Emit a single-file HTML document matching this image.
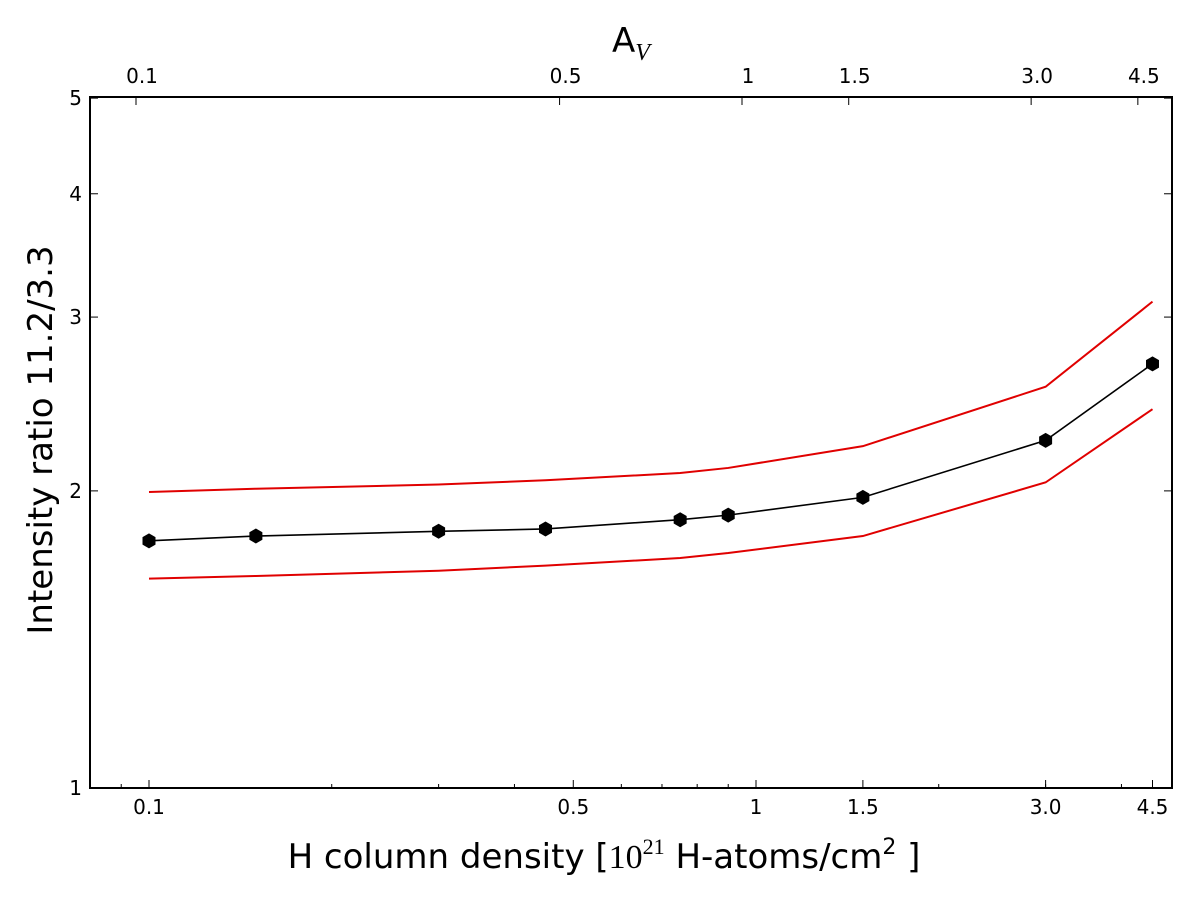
<!DOCTYPE html>
<html><head><meta charset="utf-8"><style>
body{margin:0;background:#fff;}
svg{display:block;font-family:"DejaVu Sans","Liberation Sans",sans-serif;}
</style></head><body>
<svg id="chart" width="1200" height="905" viewBox="0 0 1200 905">
<rect x="0" y="0" width="1200" height="905" fill="#fff"/>
<g id="series"></g>
<g id="axes"></g>
<rect x="90" y="97" width="1082" height="691" fill="none" stroke="#000" stroke-width="2"/>
<text x="604" y="868" font-size="34" text-anchor="middle">H column density [<tspan font-family="Liberation Serif, serif">10</tspan><tspan font-family="Liberation Serif, serif" font-size="22" dy="-14">21</tspan><tspan dy="14"> H-atoms/cm</tspan><tspan font-size="22" dy="-14">2</tspan><tspan dy="14"> ]</tspan></text>
<text transform="translate(52,440) rotate(-90)" font-size="34" text-anchor="middle">Intensity ratio 11.2/3.3</text>
<text x="612" y="52" font-size="34">A<tspan font-family="Liberation Serif, serif" font-style="italic" font-size="24" dy="8">V</tspan></text>
</svg>
<script>
const xValues=[0.1,0.15,0.3,0.45,0.75,0.9,1.5,3.0,4.5];
const ratioMean=[1.78,1.80,1.82,1.83,1.87,1.89,1.97,2.25,2.69];
const ratioUpper=[1.995,2.01,2.03,2.05,2.085,2.11,2.22,2.55,3.11];
const ratioLower=[1.63,1.64,1.66,1.68,1.71,1.73,1.80,2.04,2.42];
const bottomTicks=[0.1,0.5,1,1.5,3.0,4.5];
const bottomTickLabels=["0.1","0.5","1","1.5","3.0","4.5"];
const topTicks=[0.1,0.5,1,1.5,3.0,4.5];
const topTickLabels=["0.1","0.5","1","1.5","3.0","4.5"];
const yTicks=[1,2,3,4,5];
const yTickLabels=["1","2","3","4","5"];

const NS="http://www.w3.org/2000/svg";
const xs=v=>149+607*Math.log10(v/0.1);
const xt=v=>136+606*Math.log10(v/0.1);
const ys=v=>788-987*Math.log10(v);
const series=document.getElementById('series');
const axes=document.getElementById('axes');
function mk(tag,attrs,parent){const e=document.createElementNS(NS,tag);for(const k in attrs)e.setAttribute(k,attrs[k]);parent.appendChild(e);return e;}

function line(vals,color,w,name){
  const p=mk('polyline',{points:xValues.map((x,i)=>xs(x)+','+ys(vals[i])).join(' '),fill:'none',stroke:color,'stroke-width':w},series);
  
  
}
line(ratioUpper,'#e00000',2,'upper-bound-line');
line(ratioLower,'#e00000',2,'lower-bound-line');
line(ratioMean,'#000',1.6,'mean-ratio-line');
xValues.forEach((x,i)=>{
  const cx=xs(x),cy=ys(ratioMean[i]),r=7.5;let pts=[];
  for(let k=0;k<6;k++){const a=Math.PI/6+k*Math.PI/3;pts.push((cx+r*Math.cos(a))+','+(cy+r*Math.sin(a)));}
  const h=mk('polygon',{points:pts.join(' '),fill:'#000'},series);
  
  
});

bottomTicks.forEach((v,i)=>{
  const x=xs(v);
  const t=mk('line',{x1:x,x2:x,y1:788,y2:780,stroke:'#000','stroke-width':1},axes);
  
  
  const l=mk('text',{x:x,y:814,'font-size':20,'text-anchor':'middle'},axes);
  l.textContent=bottomTickLabels[i];
  
  
});
[0.09,0.2,0.3,0.4,0.6,0.7,0.8,0.9,2,3,4].forEach(v=>{
  const x=xs(v);
  const t=mk('line',{x1:x,x2:x,y1:788,y2:784,stroke:'#000','stroke-width':1},axes);
  
  
});
topTicks.forEach((v,i)=>{
  const x=xt(v);
  const t=mk('line',{x1:x,x2:x,y1:97,y2:105,stroke:'#000','stroke-width':1},axes);
  
  
  const l=mk('text',{x:x+6,y:83,'font-size':20,'text-anchor':'middle'},axes);
  l.textContent=topTickLabels[i];
  
  
});
yTicks.forEach((v,i)=>{
  const y=ys(v);
  const t=mk('line',{x1:90,x2:98,y1:y,y2:y,stroke:'#000','stroke-width':1},axes);
  
  
  const t2=mk('line',{x1:1164,x2:1172,y1:y,y2:y,stroke:'#000','stroke-width':1},axes);
  
  
  const l=mk('text',{x:82,y:y+7,'font-size':20,'text-anchor':'end'},axes);
  l.textContent=yTickLabels[i];
  
  
});
</script>
</body></html>
